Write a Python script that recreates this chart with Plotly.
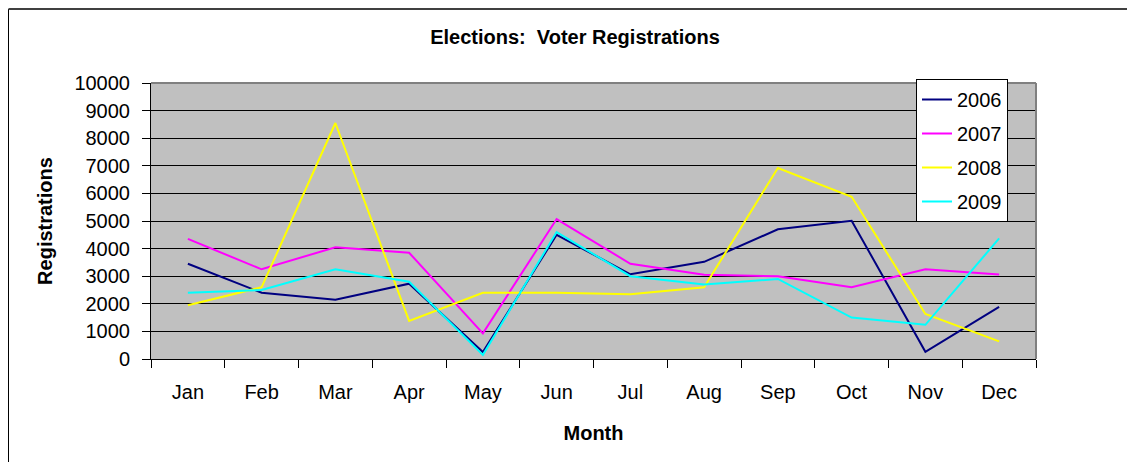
import plotly.graph_objects as go

months = ["Jan", "Feb", "Mar", "Apr", "May", "Jun", "Jul", "Aug", "Sep", "Oct", "Nov", "Dec"]
y2006 = [3450, 2400, 2150, 2730, 250, 4500, 3070, 3520, 4700, 5010, 260, 1890]
y2007 = [4350, 3250, 4050, 3850, 930, 5070, 3450, 3050, 3000, 2600, 3250, 3060]
y2008 = [1950, 2600, 8550, 1380, 2400, 2400, 2350, 2600, 6920, 5880, 1630, 640]
y2009 = [2400, 2500, 3250, 2800, 150, 4600, 3000, 2700, 2900, 1500, 1240, 4370]

series = [("2006", y2006, "#000080"), ("2007", y2007, "#FF00FF"),
          ("2008", y2008, "#FFFF00"), ("2009", y2009, "#00FFFF")]

fig = go.Figure()
for name, vals, col in series:
    fig.add_trace(go.Scatter(x=months, y=vals, mode="lines", name=name,
                             line=dict(color=col, width=2), legendgroup=name))

font = "Arial, Liberation Sans, sans-serif"
W, H = 1119, 454
L, T, PW, PH = 143, 75, 885, 276
fig.update_layout(
    width=W, height=H,
    margin=dict(l=L, r=W - L - PW, t=T, b=H - T - PH),
    paper_bgcolor="white", plot_bgcolor="#C0C0C0",
    font=dict(family=font, size=20, color="black"),
    title=dict(text="<b>Elections:  Voter Registrations</b>", x=(575 - 8) / W, xanchor="center",
               y=1 - 29 / H, yanchor="middle", font=dict(size=20, family=font)),
    showlegend=True,
    legend=dict(x=(908 - L) / PW, y=(T + PH - 71) / PH, xanchor="left", yanchor="top",
                bgcolor="white", bordercolor="black", borderwidth=1,
                font=dict(size=20), traceorder="grouped", tracegroupgap=5),
    xaxis=dict(type="category", range=[-0.5, 11.5], tickson="boundaries", ticks="outside",
               ticklen=8, tickcolor="black", showline=True, linecolor="black", linewidth=1,
               showgrid=False, zeroline=False, tickfont=dict(size=20), ticklabelstandoff=15,
               title=dict(text="<b>Month</b>", font=dict(size=20), standoff=23)),
    yaxis=dict(range=[0, 10000], dtick=1000, tickformat="d", ticks="outside", ticklen=8,
               tickcolor="black", showline=True, linecolor="black", linewidth=1,
               gridcolor="black", gridwidth=1, zeroline=False, tickfont=dict(size=20),
               ticklabelstandoff=8,
               title=dict(text="<b>Registrations</b>", font=dict(size=20), standoff=16)),
)
# gray plot-area border top/right
fig.add_shape(type="line", xref="paper", yref="paper", x0=0, x1=1, y0=1, y1=1,
              line=dict(color="#808080", width=2))
fig.add_shape(type="line", xref="paper", yref="paper", x0=1, x1=1, y0=0, y1=1,
              line=dict(color="#808080", width=2))
# outer chart border (left and top)
bx = (0.5 - L) / PW
by = (T + PH - 1) / PH
fig.add_shape(type="line", xref="paper", yref="paper", x0=bx, x1=bx,
              y0=-0.6, y1=by, line=dict(color="black", width=1))
fig.add_shape(type="line", xref="paper", yref="paper", x0=bx, x1=(W - L) / PW,
              y0=by, y1=by, line=dict(color="#404040", width=2))

fig.write_html("out.html")
